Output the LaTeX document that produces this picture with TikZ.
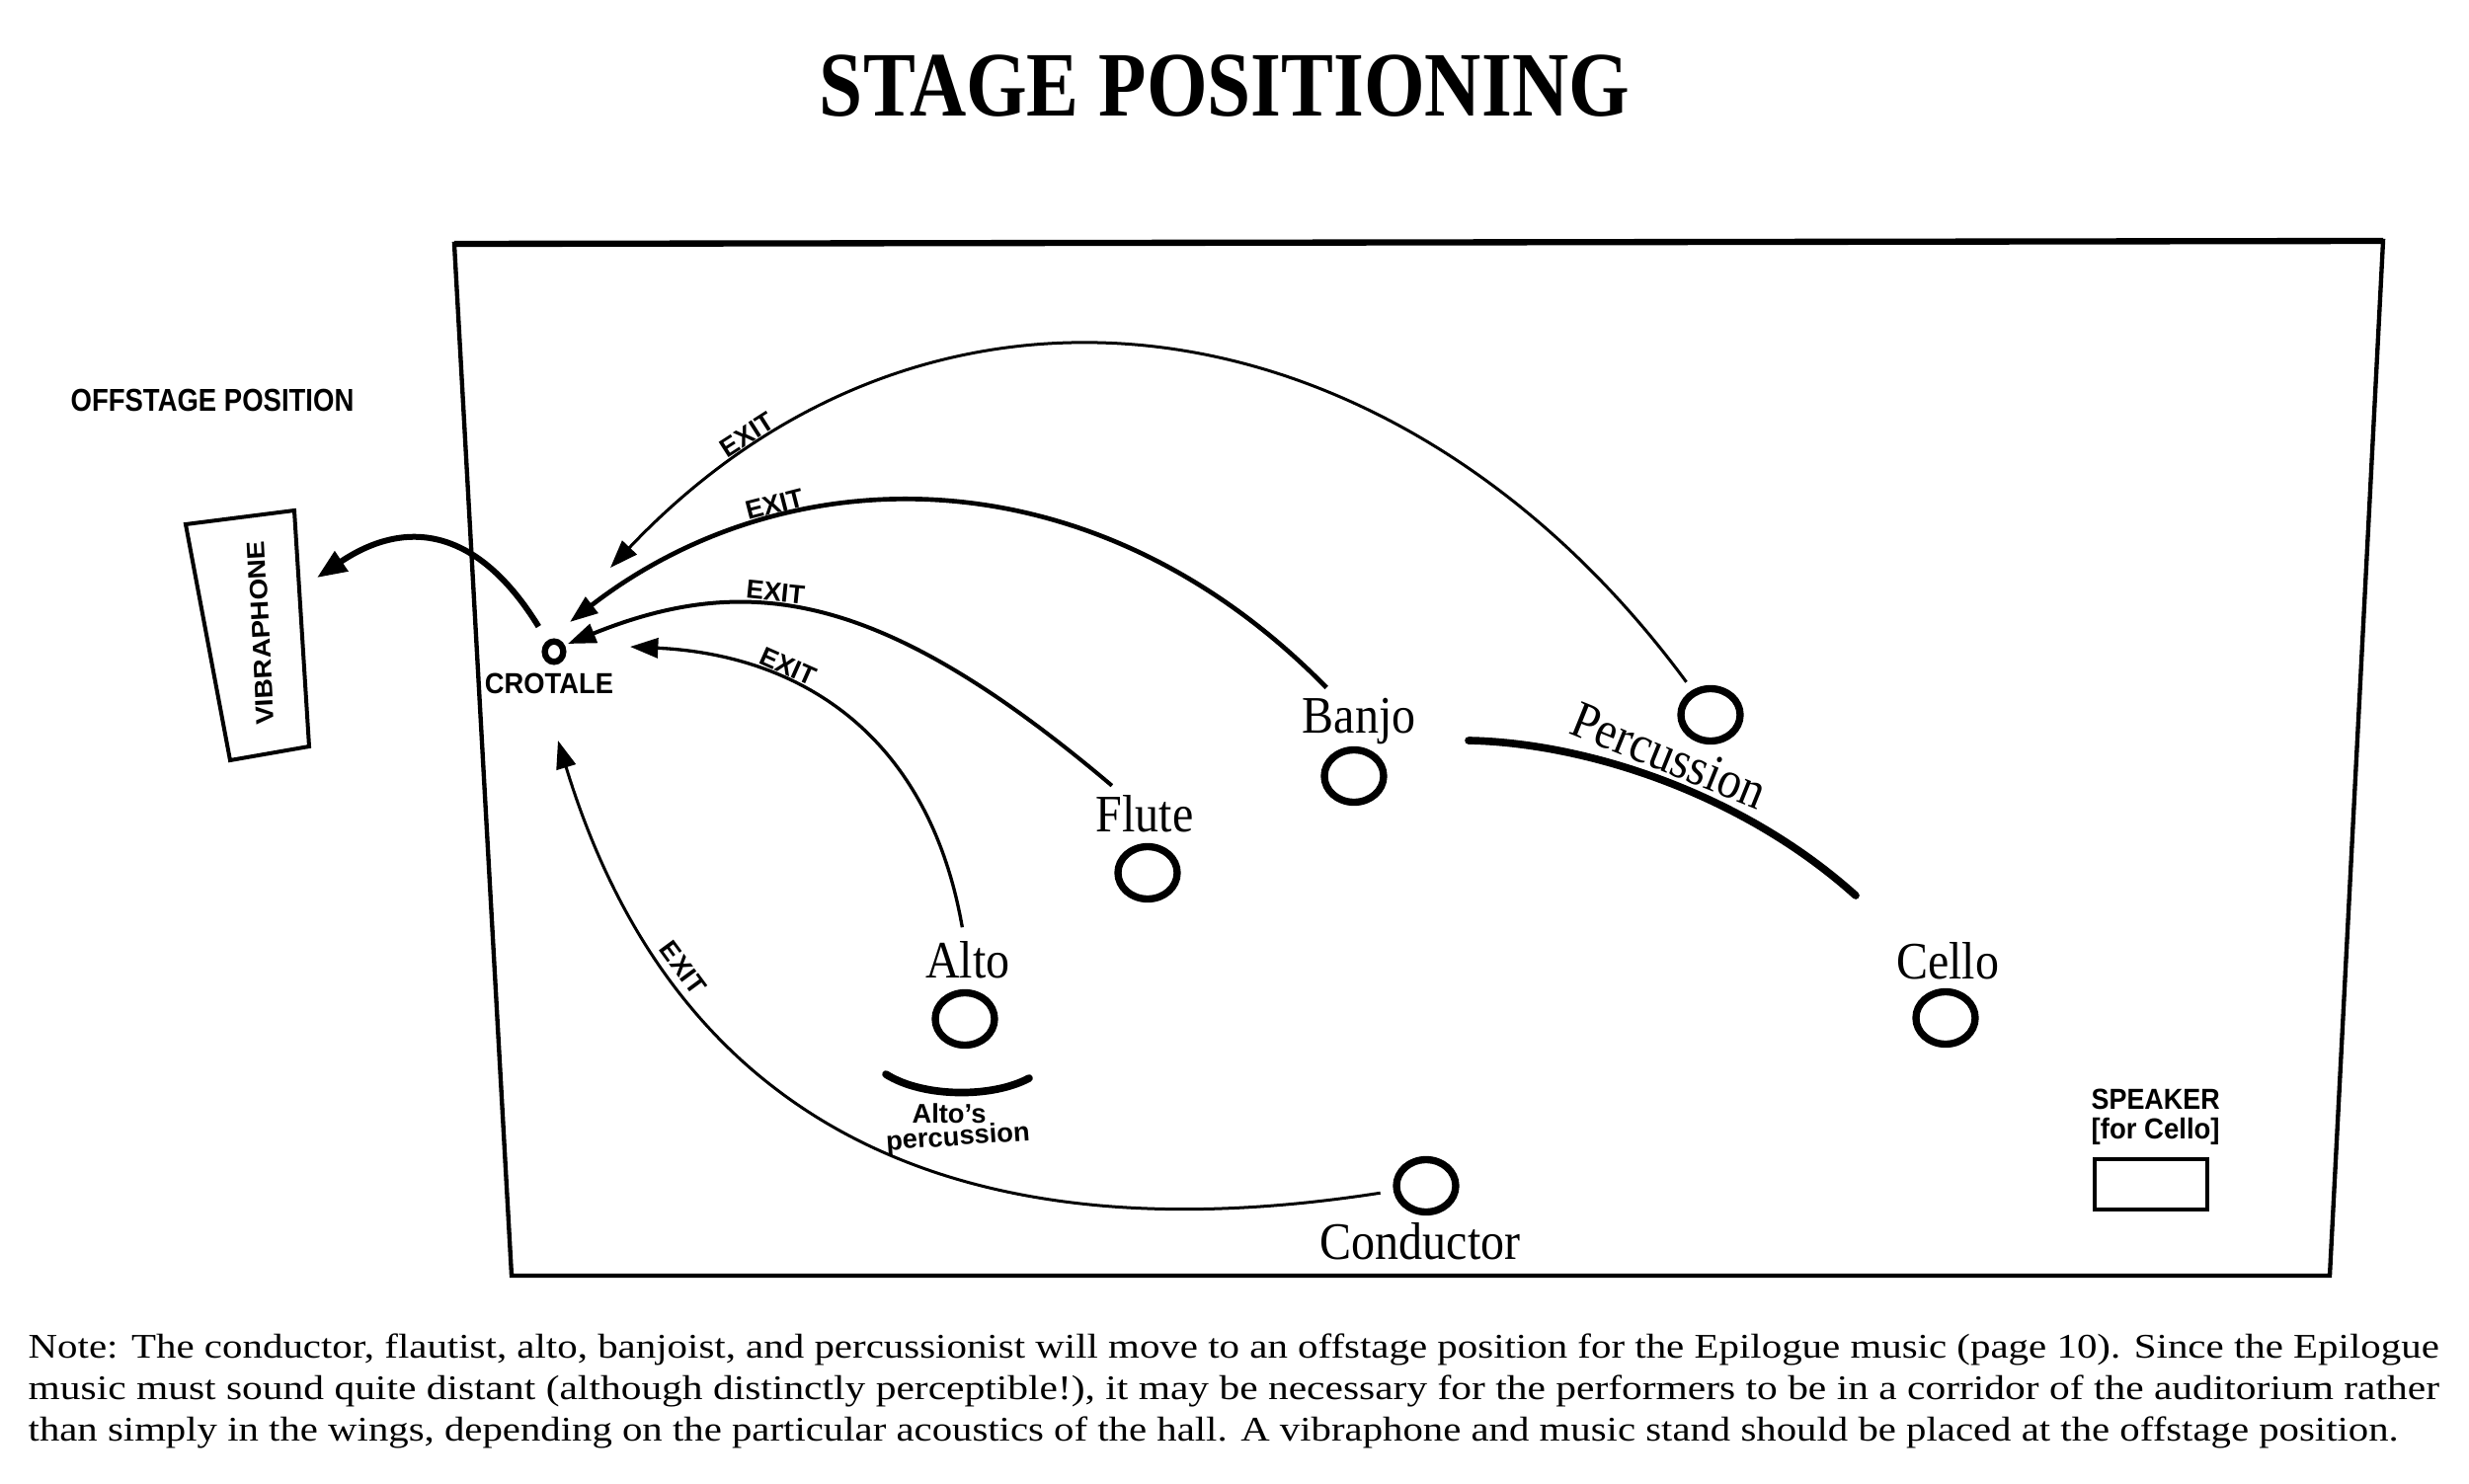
\documentclass[tikz,border=0pt]{standalone}
\usepackage{fontspec}
\setmainfont{Liberation Serif}
\newfontfamily\lsans{Liberation Sans}
\usetikzlibrary{arrows.meta,shapes.geometric}
\newcommand\sfnt[1]{\lsans\bfseries\fontsize{#1}{#1}\selectfont}
\newcommand\condtext[1]{\scalebox{0.9}[1]{#1}}
\begin{document}
\begin{tikzpicture}[x=0.3pt,y=-0.3pt,
  perf/.style={draw, ellipse, line width=2.2pt, minimum width=18pt, minimum height=15.9pt, inner sep=0pt},
  lbl/.style={font=\fontsize{16}{16}\selectfont, inner sep=0pt, anchor=base},
  exitlbl/.style={font=\sfnt{8}, sloped, above, inner sep=1.2pt},
  tip/.style={-{Triangle[length=8.5pt,width=6pt]}},
]
\useasboundingbox (0,0) rectangle (2500,1503);

% title
\node[anchor=base, font=\bfseries\fontsize{28}{28}\selectfont, inner sep=0pt] (title) at (1240,117) {\resizebox{246pt}{\height}{STAGE POSITIONING}};

% stage outline
\draw[line width=1.3pt, line join=miter] (460,247) -- (2413,244) -- (2359,1292) -- (518,1292) -- cycle;
\draw[line width=1.9pt] (460,247) -- (2413,244);

% offstage
\node[anchor=base, inner sep=0pt, font=\sfnt{9.6}] (off) at (215,416) {\resizebox{86pt}{\height}{OFFSTAGE POSITION}};
\draw[line width=1.2pt, line join=miter] (188,531) -- (298,517) -- (313,756) -- (233,770) -- cycle;
\node[inner sep=0pt, font=\sfnt{7.6}, rotate=93] (vib) at (264,641) {\resizebox{56pt}{\height}{VIBRAPHONE}};

% crotale
\node[draw, ellipse, line width=1.9pt, minimum width=5.6pt, minimum height=6.2pt, inner sep=0pt] (crot) at (561,660) {};
\node[anchor=base, inner sep=0pt, font=\sfnt{8.8}] (crotL) at (556,702) {\resizebox{39pt}{\height}{CROTALE}};

% performers
\node[perf] (perc) at (1732,724) {};
\node[perf] (banjo) at (1371,786) {};
\node[perf] (flute) at (1162,884) {};
\node[perf] (alto) at (977,1032) {};
\node[perf] (cello) at (1970,1031) {};
\node[perf] (cond) at (1444,1201) {};

\node[lbl] (banjoL) at (1376,742) {\condtext{Banjo}};
\node[lbl] (fluteL) at (1159,842) {\condtext{Flute}};
\node[lbl] (altoL) at (980,990) {\condtext{Alto}};
\node[lbl] (celloL) at (1972,991) {\condtext{Cello}};
\node[lbl] (condL) at (1438,1275) {\condtext{Conductor}};

% percussion arc
\draw[line width=2.3pt, line cap=round] (1487,750) .. controls (1600,752) and (1760,800) .. (1879,907);
\node[inner sep=0pt, font=\fontsize{16}{16}\selectfont, rotate=-22] (percL) at (1690,765) {\condtext{Percussion}};

% alto's percussion
\draw[line width=2.3pt, line cap=round] (897,1088) .. controls (935,1112) and (1005,1112) .. (1042,1092);
\node[anchor=base, inner sep=0pt, font=\sfnt{8.2}] (altosL) at (961,1137) {Alto’s};
\node[inner sep=0pt, font=\sfnt{8.2}, rotate=4] (altospL) at (970,1153) {percussion};

% speaker
\node[anchor=base west, inner sep=0pt, font=\sfnt{8.8}] (spk) at (2117,1123) {\resizebox{39pt}{\height}{SPEAKER}};
\node[anchor=base west, inner sep=0pt, font=\sfnt{8.8}] (spkfor) at (2117,1153) {\resizebox{39pt}{\height}{[for Cello]}};
\node[draw, line width=1.2pt, minimum width=34.2pt, minimum height=15.3pt, inner sep=0pt] (spkbox) at (2178,1199.5) {};

% arrow tips
\coordinate (tipP) at (618,575);
\coordinate (tipB) at (577,630);
\coordinate (tipF) at (575,652);
\coordinate (tipA) at (638,655);
\coordinate (tipC) at (565,750);
\coordinate (tipV) at (321,585);

\draw[tip, line width=0.9pt, shorten <=3pt] (perc) .. controls (1420,300) and (950,225) .. (tipP) node[exitlbl, pos=0.86] {EXIT};
\draw[tip, line width=1.4pt, shorten <=4pt] (banjoL) .. controls (1108,456) and (798,459) .. (tipB) node[exitlbl, pos=0.71] {EXIT};
\draw[tip, line width=1.2pt, shorten <=4pt] (fluteL) .. controls (896,601) and (761,577) .. (tipF) node[exitlbl, pos=0.6] {EXIT};
\draw[tip, line width=1.0pt, shorten <=4pt] (altoL) .. controls (940,742) and (808,663) .. (tipA) node[exitlbl, pos=0.67] {EXIT};
\draw[tip, line width=0.9pt, shorten <=4pt] (cond) .. controls (905,1285) and (667,1085) .. (tipC) node[exitlbl, pos=0.73] {EXIT};
\draw[-{Triangle[length=9pt,width=7pt]}, line width=1.8pt, shorten <=5pt] (crot) .. controls (484,535) and (412,524) .. (tipV);

% note
\node[anchor=base west, inner sep=0pt, font=\fontsize{10.5}{12}\selectfont] (note1) at (28,1375) {\resizebox{732.3pt}{\height}{Note: The conductor, flautist, alto, banjoist, and percussionist will move to an offstage position for the Epilogue music (page 10). Since the Epilogue}};
\node[anchor=base west, inner sep=0pt, font=\fontsize{10.5}{12}\selectfont] (note2) at (28,1417) {\resizebox{732.3pt}{\height}{music must sound quite distant (although distinctly perceptible!), it may be necessary for the performers to be in a corridor of the auditorium rather}};
\node[anchor=base west, inner sep=0pt, font=\fontsize{10.5}{12}\selectfont] (note3) at (28,1459) {\resizebox{720pt}{\height}{than simply in the wings, depending on the particular acoustics of the hall. A vibraphone and music stand should be placed at the offstage position.}};
\end{tikzpicture}
\end{document}
